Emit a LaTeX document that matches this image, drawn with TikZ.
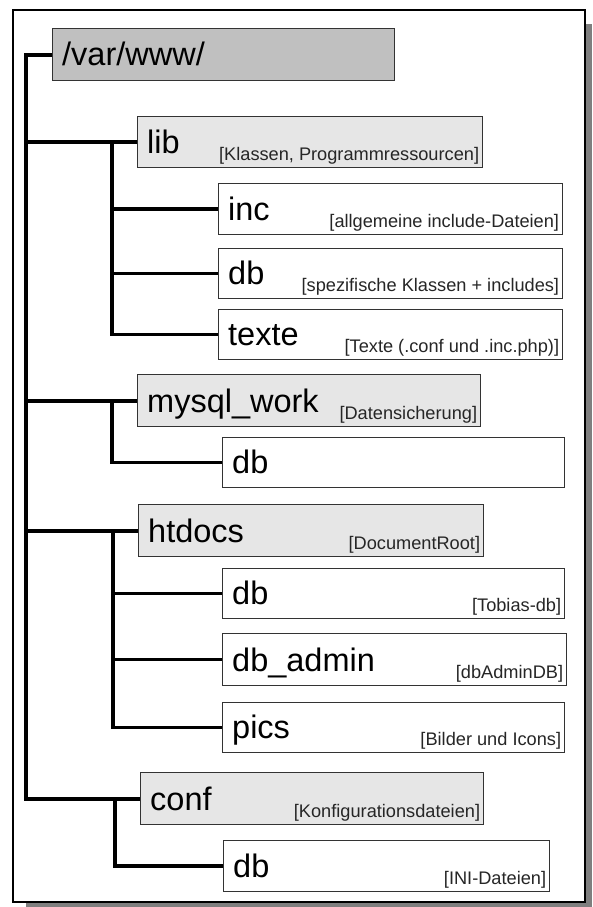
\documentclass[tikz,border=0pt]{standalone}
\usepackage{fontspec}
\setmainfont{Liberation Sans}
\definecolor{shadowgray}{HTML}{7F7F7F}
\definecolor{rootfill}{HTML}{C0C0C0}
\definecolor{lvlfill}{HTML}{E6E6E6}
\definecolor{boxline}{HTML}{333333}
\tikzset{
  dirbox/.style={draw=boxline, line width=1.3pt, rectangle, anchor=north west, inner sep=0pt, minimum height=51pt},
  rootbox/.style={dirbox, fill=rootfill},
  lvlbox/.style={dirbox, fill=lvlfill},
  subbox/.style={dirbox, fill=white},
  bigtxt/.style={anchor=base west, inner sep=0pt, font=\fontsize{32.5}{32.5}\selectfont, text=black},
  smalltxt/.style={anchor=base east, inner sep=0pt, font=\fontsize{18.2}{18.2}\selectfont, text=black!85},
  trunk/.style={line width=4pt, black},
  branch/.style={line width=3.5pt, black},
}
\newcommand{\dirlabels}[3]{%
  \node[bigtxt] (#1-t) at ([xshift=10pt,yshift=15pt]#1.south west) {#2};
  \node[smalltxt] (#1-s) at ([xshift=-4pt,yshift=7.5pt]#1.south east) {#3};
}
\begin{document}
\begin{tikzpicture}[x=1pt,y=-1pt]
\useasboundingbox (0,0) rectangle (592,907);
% frame with shadow
\fill[shadowgray] (26,24) rectangle (592,907);
\draw[line width=2pt, fill=white] (13,10) rectangle (585,902);

% boxes
\node[rootbox, minimum width=342pt, minimum height=52pt] (var) at (52,28) {};
\node[bigtxt] (var-t) at ([xshift=10pt,yshift=16pt]var.south west) {/var/www/};

\node[lvlbox, minimum width=345pt] (lib) at (137,116) {};
\dirlabels{lib}{lib}{[Klassen, Programmressourcen]}
\node[subbox, minimum width=344pt] (inc) at (218,183) {};
\dirlabels{inc}{inc}{[allgemeine include-Dateien]}
\node[subbox, minimum width=344pt, minimum height=50pt] (libdb) at (218,248) {};
\dirlabels{libdb}{db}{[spezifische Klassen + includes]}
\node[subbox, minimum width=344pt, minimum height=50pt] (texte) at (218,309) {};
\dirlabels{texte}{texte}{[Texte (.conf und .inc.php)]}

\node[lvlbox, minimum width=343pt, minimum height=52pt] (mysql) at (137,374) {};
\dirlabels{mysql}{mysql\_work}{[Datensicherung]}
\node[subbox, minimum width=342pt, minimum height=50pt] (mysqldb) at (222,437) {};
\node[bigtxt] (mysqldb-t) at ([xshift=10pt,yshift=15pt]mysqldb.south west) {db};

\node[lvlbox, minimum width=345pt, minimum height=52pt] (htdocs) at (138,504) {};
\dirlabels{htdocs}{htdocs}{[DocumentRoot]}
\node[subbox, minimum width=342pt, minimum height=50pt] (htdb) at (222,568) {};
\dirlabels{htdb}{db}{[Tobias-db]}
\node[subbox, minimum width=344pt, minimum height=52pt] (dbadmin) at (222,633) {};
\dirlabels{dbadmin}{db\_admin}{[dbAdminDB]}
\node[subbox, minimum width=342pt, minimum height=50pt] (pics) at (222,702) {};
\dirlabels{pics}{pics}{[Bilder und Icons]}

\node[lvlbox, minimum width=343pt, minimum height=52pt] (conf) at (140,772) {};
\dirlabels{conf}{conf}{[Konfigurationsdateien]}
\node[subbox, minimum width=326pt, minimum height=51pt] (confdb) at (223,840) {};
\dirlabels{confdb}{db}{[INI-Dateien]}

% trunk connectors
\coordinate (r0) at (26,0);
\draw[trunk] (var.west) -- (var.west -| r0) -- (r0 |- conf.west) -- (conf.west);
\draw[trunk] (lib.west) -- (lib.west -| r0);
\draw[trunk] (mysql.west) -- (mysql.west -| r0);
\draw[trunk] (htdocs.west) -- (htdocs.west -| r0);

% branch connectors
\coordinate (s1) at (112,0);
\draw[branch] (lib.west -| s1) |- (texte.west);
\draw[branch] (inc.west) -- (inc.west -| s1);
\draw[branch] (libdb.west) -- (libdb.west -| s1);

\coordinate (s2) at (112,0);
\draw[branch] (mysql.west -| s2) |- (mysqldb.west);

\coordinate (s3) at (113,0);
\draw[branch] (htdocs.west -| s3) |- (pics.west);
\draw[branch] (htdb.west) -- (htdb.west -| s3);
\draw[branch] (dbadmin.west) -- (dbadmin.west -| s3);

\coordinate (s4) at (115,0);
\draw[branch] (conf.west -| s4) |- (confdb.west);
\end{tikzpicture}
\end{document}
